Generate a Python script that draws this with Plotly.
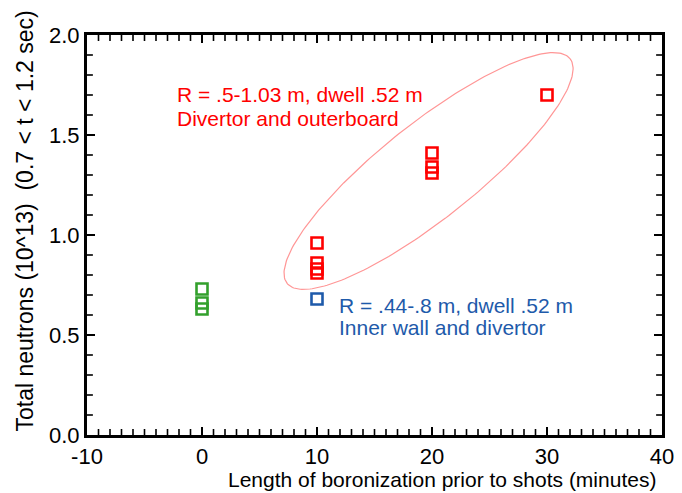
import numpy as np
import plotly.graph_objects as go

# Data
red_x = [10, 10, 10, 10, 20, 20, 20, 30]
red_y = [0.96, 0.86, 0.83, 0.81, 1.41, 1.34, 1.31, 1.70]
green_x = [0, 0, 0]
green_y = [0.73, 0.66, 0.63]
blue_x = [10]
blue_y = [0.68]

x_ticks = [-10, 0, 10, 20, 30, 40]
x_tick_text = ["-10", "0", "10", "20", "30", "40"]
y_ticks = [0.0, 0.5, 1.0, 1.5, 2.0]
y_tick_text = ["0.0", "0.5", "1.0", "1.5", "2.0"]
x_minor_step = 1
y_minor_step = 0.1

RED = "rgb(255,0,0)"
GREEN = "rgb(51,160,44)"
BLUE = "rgb(30,90,170)"
FONT = "Liberation Sans, Arial, sans-serif"

# figure geometry
W, H = 682, 493
ml, mr, mt, mb = 87, 8, 35, 58
pw, ph = W - ml - mr, H - mt - mb
xr, yr = (-10, 40), (0, 2)
sx = pw / (xr[1] - xr[0])
sy = ph / (yr[1] - yr[0])

# ellipse annotation (center in data coords, semi-axes in px, angle deg)
ecx, ecy = 19.7, 1.32
ea, eb, eang = 183, 48, 37.8
t = np.linspace(0, 2 * np.pi, 240)
th = np.deg2rad(eang)
px = ea * np.cos(t) * np.cos(th) - eb * np.sin(t) * np.sin(th)
py = ea * np.cos(t) * np.sin(th) + eb * np.sin(t) * np.cos(th)
ex = ecx + px / sx
ey = ecy + py / sy

# minor tick segments (inside, on all four sides), built from axis steps
mlen = 6
xm = [v for v in np.arange(xr[0], xr[1] + 1e-9, x_minor_step)
      if not any(abs(v - m) < 1e-9 for m in x_ticks)]
ym = [round(v, 3) for v in np.arange(yr[0], yr[1] + 1e-9, y_minor_step)
      if not any(abs(v - m) < 1e-9 for m in y_ticks)]
tx, ty = [], []
for v in xm:
    tx += [v, v, None, v, v, None]
    ty += [yr[0], yr[0] + mlen / sy, None, yr[1], yr[1] - mlen / sy, None]
for v in ym:
    tx += [xr[0], xr[0] + mlen / sx, None, xr[1], xr[1] - mlen / sx, None]
    ty += [v, v, None, v, v, None]

fig = go.Figure()
fig.add_trace(go.Scatter(x=ex, y=ey, mode="lines",
                         line=dict(color="rgb(255,150,150)", width=1.2),
                         hoverinfo="skip", showlegend=False))
fig.add_trace(go.Scatter(x=tx, y=ty, mode="lines",
                         line=dict(color="black", width=1.6, simplify=False),
                         hoverinfo="skip", showlegend=False, cliponaxis=False))
for xs, ys, c in [(green_x, green_y, GREEN), (red_x, red_y, RED), (blue_x, blue_y, BLUE)]:
    fig.add_trace(go.Scatter(x=xs, y=ys, mode="markers", showlegend=False,
                             marker=dict(symbol="square-open", size=11,
                                         color=c, line=dict(color=c, width=2.6))))

labels = [
    (-2.35, 1.705, "R = .5-1.03 m, dwell .52 m", RED),
    (-2.35, 1.585, "Divertor and outerboard", RED),
    (11.75, 0.65, "R = .44-.8 m, dwell .52 m", BLUE),
    (11.75, 0.54, "Inner wall and divertor", BLUE),
]
for lx, ly, txt, c in labels:
    fig.add_annotation(x=lx, y=ly, xref="x", yref="y", xanchor="left", yanchor="middle",
                       text=txt, showarrow=False,
                       font=dict(family=FONT, size=21, color=c))

fig.add_annotation(x=0.993, y=-0.112, xref="paper", yref="paper", xanchor="right",
                   yanchor="middle", showarrow=False,
                   text="Length of boronization prior to shots (minutes)",
                   font=dict(family=FONT, size=21, color="black"))
fig.add_annotation(x=-0.107, y=0.535, xref="paper", yref="paper", xanchor="center",
                   yanchor="middle", showarrow=False, textangle=-90,
                   text="Total neutrons (10^13)  (0.7 < t < 1.2 sec)",
                   font=dict(family=FONT, size=23, color="black"))

fig.update_xaxes(range=list(xr), tickmode="array", tickvals=x_ticks, ticktext=x_tick_text,
                 showgrid=False, zeroline=False, showline=True, linecolor="black",
                 linewidth=3, mirror="ticks", ticks="inside", tickcolor="black",
                 tickwidth=2, ticklen=8, ticklabeloverflow="allow",
                 tickfont=dict(family=FONT, size=22, color="black"))
fig.update_yaxes(range=list(yr), tickmode="array", tickvals=y_ticks, ticktext=y_tick_text,
                 showgrid=False, zeroline=False, showline=True, linecolor="black",
                 linewidth=3, mirror="ticks", ticks="inside", tickcolor="black",
                 tickwidth=2, ticklen=8, ticklabeloverflow="allow",
                 tickfont=dict(family=FONT, size=22, color="black"))

fig.update_layout(width=W, height=H, margin=dict(l=ml, r=mr, t=mt, b=mb),
                  plot_bgcolor="white", paper_bgcolor="white",
                  font=dict(family=FONT))
fig.write_html("out.html")
